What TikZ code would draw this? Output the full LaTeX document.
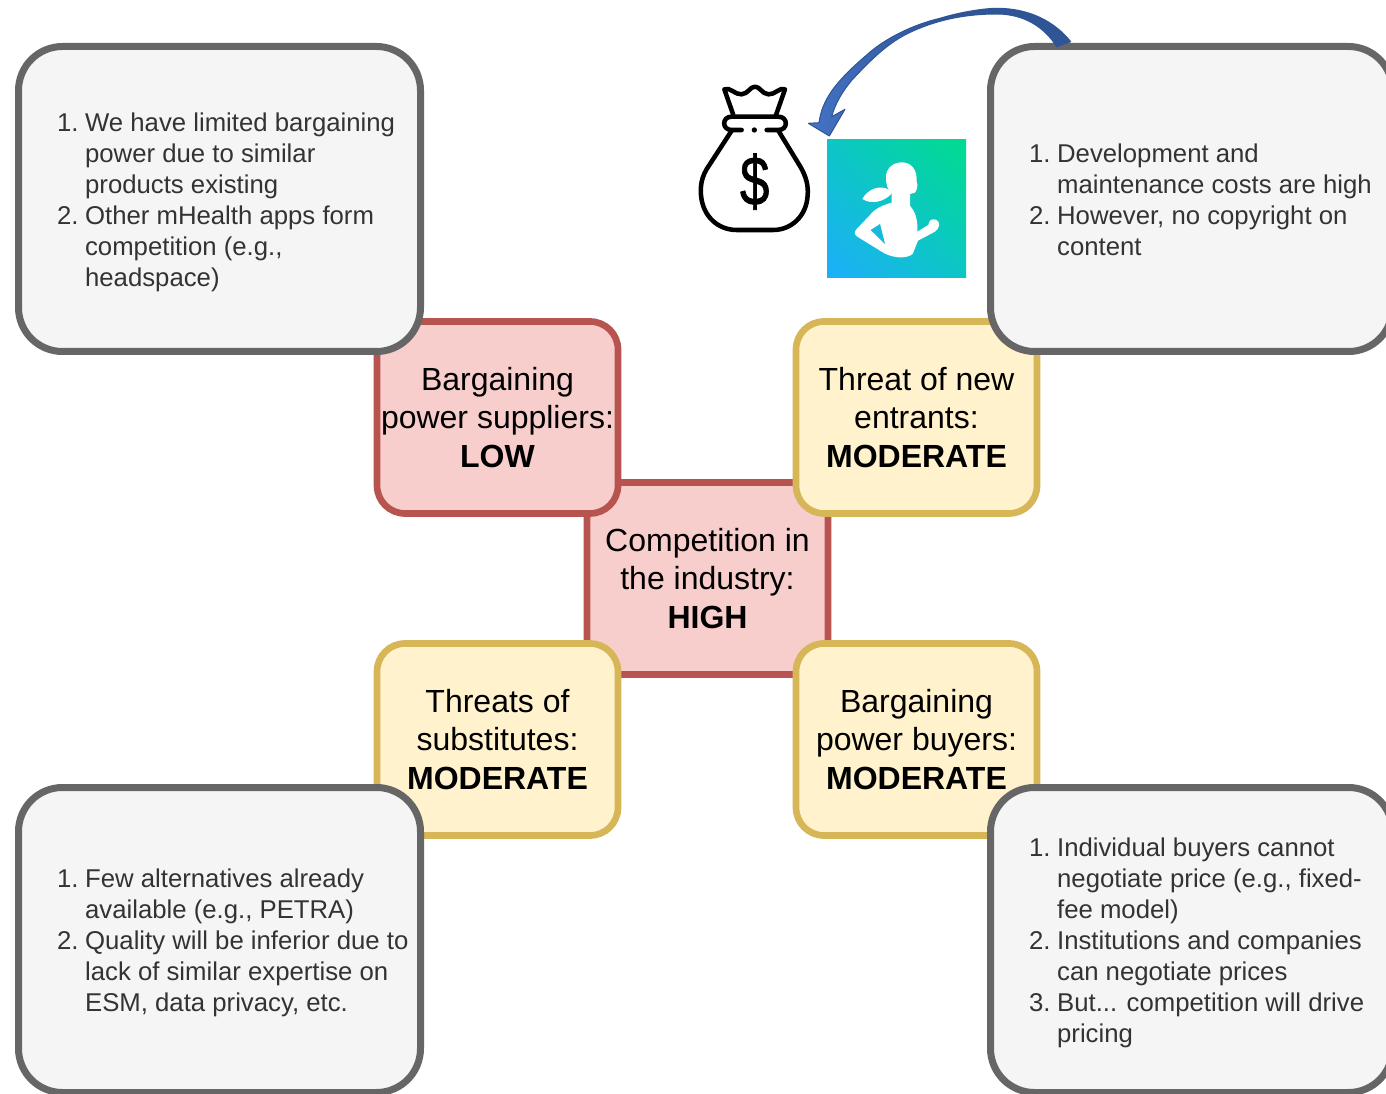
\documentclass[tikz,border=0pt]{standalone}
\usepackage{fontspec}
\usetikzlibrary{shadings}
\setmainfont{Liberation Sans}
\newfontfamily\dollarfont[FakeBold=1.2]{Liberation Sans}
\newcommand{\sidelist}[1]{\raisebox{-2.7pt}[\height][\depth]{\makebox[243.75pt][l]{\fontsize{19.3}{23.25}\selectfont\color{sidetext}\begin{tabular}{@{}r@{\hspace{5pt}}l@{}}#1\end{tabular}}}}
\definecolor{sidetext}{HTML}{333333}
\definecolor{redfill}{HTML}{F8CECC}
\definecolor{redline}{HTML}{B85450}
\definecolor{yelfill}{HTML}{FFF2CC}
\definecolor{yelline}{HTML}{D6B656}
\definecolor{grayfill}{HTML}{F5F5F5}
\definecolor{grayline}{HTML}{666666}
\definecolor{arrowA}{HTML}{4472C4}
\definecolor{arrowB}{HTML}{2F5597}
\definecolor{iconA}{HTML}{1DAEFC}
\definecolor{iconB}{HTML}{00DC8E}
\definecolor{iconM}{HTML}{0CC6C6}
\tikzset{
  forcebox/.style={rectangle,outer sep=0pt,rounded corners=21pt,line width=5pt,minimum width=180.75pt,minimum height=144pt,inner sep=0pt,align=center,font=\fontsize{24}{28.9}\selectfont},
  redbox/.style={forcebox,draw=redline,fill=redfill},
  yelbox/.style={forcebox,draw=yelline,fill=yelfill},
  notebox/.style={rectangle,outer sep=0pt,rounded corners=33pt,line width=5.25pt,draw=grayline,fill=grayfill,minimum width=301.5pt,minimum height=228.75pt,inner sep=0pt},
  bagline/.style={line width=3.4pt,black,line cap=round,line join=round},
}
\begin{document}
\begin{tikzpicture}[x=0.75pt,y=-0.75pt]
\useasboundingbox (0,0) rectangle (1386,1094);
\clip (0,0) rectangle (1386,1094);
\fill[white] (0,0) rectangle (1386,1094);

% force boxes
\node[redbox] (rivalry) at (707.5,578.5) {Competition in\\the industry:\\\textbf{HIGH}};
\node[redbox] (suppliers) at (497.5,417.5) {Bargaining\\power suppliers:\\\textbf{LOW}};
\node[yelbox] (entrants) at (916.5,417.5) {Threat of new\\entrants:\\\textbf{MODERATE}};
\node[yelbox] (substitutes) at (497.5,739.5) {Threats of\\substitutes:\\\textbf{MODERATE}};
\node[yelbox] (buyers) at (916.5,739.5) {Bargaining\\power buyers:\\\textbf{MODERATE}};

% note boxes
\node[notebox] (notesuppliers) at (219.5,199) {\sidelist{1.&We have limited bargaining\\&power due to similar\\&products existing\\2.&Other mHealth apps form\\&competition (e.g.,\\&headspace)}};
\node[notebox] (noteentrants) at (1191.5,199) {\sidelist{1.&Development and\\&maintenance costs are high\\2.&However, no copyright on\\&content}};
\node[notebox] (notesubstitutes) at (219.5,940) {\sidelist{1.&Few alternatives already\\&available (e.g., PETRA)\\2.&Quality will be inferior due to\\&lack of similar expertise on\\&ESM, data privacy, etc.}};
\node[notebox] (notebuyers) at (1191.5,940) {\sidelist{1.&Individual buyers cannot\\&negotiate price (e.g., fixed-\\&fee model)\\2.&Institutions and companies\\&can negotiate prices\\3.&But... competition will drive\\&pricing}};

% app icon
\node[rectangle,outer sep=0pt,minimum width=104.25pt,minimum height=103.5pt,inner sep=0pt,lower left=iconA,upper right=iconB,upper left=iconM,lower right=iconM] (appicon) at (896.5,209) {};
\begin{scope}[shift={(830,150)},x=0.25pt,y=-0.25pt]
  % head and face
  \fill[white] (168,85) .. controls (166,55) and (190,37) .. (215,37) .. controls (245,37) and (262,60) .. (260,95) .. controls (264,105) and (262,118) .. (255,128) -- (240,132) -- (240,170) -- (185,170) -- (185,130) .. controls (172,120) and (168,100) .. (168,85) -- cycle;
  % ponytail
  \fill[white] (175,118) .. controls (150,105) and (115,115) .. (97,147) .. controls (125,165) and (165,155) .. (185,130) -- cycle;
  % torso and arms
  \fill[white] (185,158) .. controls (160,165) and (135,175) .. (120,195) -- (80,237) .. controls (72,246) and (72,253) .. (82,260)
    -- (155,305) .. controls (180,322) and (225,330) .. (248,312) -- (264,272) -- (315,245) .. controls (330,235) and (332,215) .. (318,209) .. controls (305,205) and (296,212) .. (295,225) -- (262,245)
    -- (262,225) .. controls (260,195) and (250,178) .. (238,165) -- cycle;
  \fill[iconM!55!iconA] (122,240) -- (150,222) -- (165,282) -- cycle;
\end{scope}

% money bag
\begin{scope}[shift={(680,0)},x=0.25pt,y=-0.25pt]
  \draw[bagline] (160,345) -- (133,268) .. controls (150,260) and (165,285) .. (185,283) .. controls (205,281) and (210,260) .. (225,260) .. controls (240,260) and (245,281) .. (265,283) .. controls (285,285) and (300,260) .. (315,268) -- (288,345);
  \draw[bagline] (185,390) -- (155,390) .. controls (125,390) and (125,350) .. (155,350) -- (295,350) .. controls (325,350) and (325,390) .. (295,390) -- (260,390);
  \fill[black] (223,390) circle (8);
  \draw[bagline] (155,392) -- (88,495) .. controls (63,530) and (61,560) .. (63,585) .. controls (68,650) and (115,690) .. (170,690) -- (280,690) .. controls (332,690) and (380,650) .. (383,585) .. controls (385,560) and (380,530) .. (358,495) -- (295,392);
  \node[font=\fontsize{52}{52}\dollarfont,inner sep=0pt,xscale=0.76] (dollar) at (224,545) {\$};
\end{scope}

% curved block arrow from the note box to the money bag
\coordinate (arrowtail) at (1056.7,46.7);
\coordinate (arrowtip) at (808.3,123.3);
\path[draw=arrowB,line width=0.75pt,line join=round,left color=arrowA,right color=arrowB,middle color=arrowB]
  (arrowtail) .. controls (1045,28) and (1025,14) .. (996.7,14)
  .. controls (965,14) and (935,20) .. (906.7,34)
  .. controls (885,45) and (867,64) .. (852,80)
  .. controls (842,92) and (835,104) .. (831.7,116.7)
  -- (845,109.3) -- (829.3,136) -- (arrowtip) -- (819,122.7)
  .. controls (822,100) and (835,82) .. (866.7,55)
  .. controls (885,38) and (915,24) .. (940,18.3)
  .. controls (960,12) and (985,8.3) .. (996.7,8.3)
  .. controls (1030,8.3) and (1055,22) .. (1070.7,41.7) -- cycle;
\end{tikzpicture}
\end{document}
